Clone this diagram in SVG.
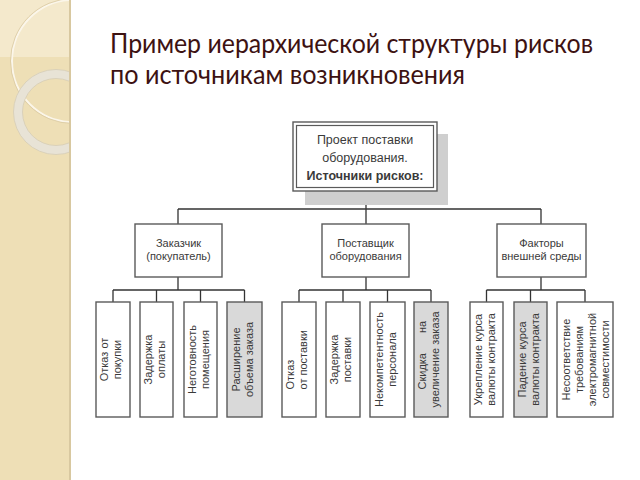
<svg xmlns="http://www.w3.org/2000/svg" width="640" height="480" viewBox="0 0 640 480">
<defs>
<style>
.box{fill:#fff;stroke:#5a5a5a;stroke-width:1.4}
.gbox{fill:#d9d9d9;stroke:#5a5a5a;stroke-width:1.4}
.con{fill:none;stroke:#333;stroke-width:1.3}
.t{font-family:"Liberation Sans",Arial,sans-serif;fill:#3a3a3a;text-anchor:middle}
.top{font-size:12.5px}
.mid{font-size:11px}
.lt{font-size:11px}
.title{font-family:Lato,"Open Sans",sans-serif;font-size:26px;fill:#3d1212}
</style>
<clipPath id="strip"><rect x="0" y="0" width="69" height="480"/></clipPath>
</defs>
<rect width="640" height="480" fill="#fff"/>
<g id="strip-deco">
<rect x="0" y="0" width="69" height="480" fill="#eedfb6"/>
<rect x="0" y="0" width="69" height="57" fill="#f4e9cc"/>
<rect x="69" y="0" width="2" height="480" fill="#d8c8a0"/>
<g clip-path="url(#strip)">
<circle cx="73" cy="61" r="61" fill="none" stroke="#fbf6ea" stroke-width="2"/>
<circle cx="73" cy="61" r="62.5" fill="none" stroke="#d9c9a2" stroke-width="0.8"/>
<circle cx="56" cy="112" r="38" fill="none" stroke="#e8e3d6" stroke-width="9"/>
<circle cx="56" cy="112" r="42.5" fill="none" stroke="#d6cdb6" stroke-width="0.8"/>
<circle cx="56" cy="112" r="33.5" fill="none" stroke="#d6cdb6" stroke-width="0.8"/>
</g>
</g>
<g id="title">
<text class="title" x="110" y="53" textLength="483" lengthAdjust="spacingAndGlyphs">Пример иерархической структуры рисков</text>
<text class="title" x="110" y="84" textLength="355" lengthAdjust="spacingAndGlyphs">по источникам возникновения</text>
</g>
<g id="connectors">
<path class="con" d="M366 191V209M178 209H541M178 209V224M366 209V224M541 209V224"/>
<path class="con" d="M178 277V290M113 290H244.5M113 290V302M156.5 290V302M200.5 290V302M244.5 290V302"/>
<path class="con" d="M366 277V290M299 290H431M299 290V302M343 290V302M387.5 290V302M431 290V302"/>
<path class="con" d="M541 277V290M486.5 290H585M486.5 290V302M530.5 290V302M585 290V302"/>
</g>
<g id="root">
<rect x="305" y="134" width="143" height="71" fill="#cfcfcf"/>
<rect class="box" x="293" y="122" width="144" height="69"/>
<rect x="296.5" y="125.5" width="137" height="62" fill="none" stroke="#5a5a5a" stroke-width="1.2"/>
<text class="t top" x="365" y="144">Проект поставки</text>
<text class="t top" x="365" y="162">оборудования.</text>
<text class="t top" x="365" y="180" font-weight="bold" fill="#1a1a1a">Источники рисков:</text>
</g>
<g id="customer">
<rect class="box" x="135" y="224" width="87" height="53"/>
<text class="t mid" x="178.5" y="247">Заказчик</text>
<text class="t mid" x="178.5" y="260">(покупатель)</text>
</g>
<g id="supplier">
<rect class="box" x="322" y="224" width="87" height="53"/>
<text class="t mid" x="365.5" y="247">Поставщик</text>
<text class="t mid" x="365.5" y="260">оборудования</text>
</g>
<g id="external">
<rect class="box" x="497" y="224" width="89" height="53"/>
<text class="t mid" x="541.5" y="247">Факторы</text>
<text class="t mid" x="541.5" y="260">внешней среды</text>
</g>
<g id="c1">
<rect class="box" x="96" y="302" width="34" height="115"/>
<g transform="translate(113 359.5) rotate(-90)"><text class="t lt" y="-5">Отказ от</text><text class="t lt" y="8">покупки</text></g>
</g>
<g id="c2">
<rect class="box" x="140" y="302" width="33" height="115"/>
<g transform="translate(156.5 359.5) rotate(-90)"><text class="t lt" y="-5">Задержка</text><text class="t lt" y="8">оплаты</text></g>
</g>
<g id="c3">
<rect class="box" x="184" y="302" width="33" height="115"/>
<g transform="translate(200.5 359.5) rotate(-90)"><text class="t lt" y="-5">Неготовность</text><text class="t lt" y="8">помещения</text></g>
</g>
<g id="c4">
<rect class="gbox" x="227" y="302" width="35" height="115"/>
<g transform="translate(244.5 359.5) rotate(-90)"><text class="t lt" y="-5">Расширение</text><text class="t lt" y="8">объема заказа</text></g>
</g>
<g id="s1">
<rect class="box" x="282" y="302" width="34" height="115"/>
<g transform="translate(299 359.5) rotate(-90)"><text class="t lt" x="-30" y="-5" style="text-anchor:start">Отказ</text><text class="t lt" x="-30" y="8" style="text-anchor:start">от поставки</text></g>
</g>
<g id="s2">
<rect class="box" x="326" y="302" width="34" height="115"/>
<g transform="translate(343 359.5) rotate(-90)"><text class="t lt" y="-5">Задержка</text><text class="t lt" y="8">поставки</text></g>
</g>
<g id="s3">
<rect class="box" x="370" y="302" width="35" height="115"/>
<g transform="translate(387.5 359.5) rotate(-90)"><text class="t lt" y="-5">Некомпетентность</text><text class="t lt" y="8">персонала</text></g>
</g>
<g id="s4">
<rect class="gbox" x="414" y="302" width="34" height="115"/>
<g transform="translate(431 359.5) rotate(-90)"><text class="t lt" x="-30" y="-5" style="text-anchor:start" word-spacing="17">Скидка на</text><text class="t lt" y="8">увеличение заказа</text></g>
</g>
<g id="e1">
<rect class="box" x="470" y="302" width="33" height="115"/>
<g transform="translate(486.5 359.5) rotate(-90)"><text class="t lt" y="-5">Укрепление курса</text><text class="t lt" y="8">валюты контракта</text></g>
</g>
<g id="e2">
<rect class="gbox" x="514" y="302" width="33" height="115"/>
<g transform="translate(530.5 359.5) rotate(-90)"><text class="t lt" y="-5">Падение курса</text><text class="t lt" y="8">валюты контракта</text></g>
</g>
<g id="e3">
<rect class="box" x="557" y="302" width="56" height="115"/>
<g transform="translate(585 359.5) rotate(-90)"><text class="t lt" y="-15.5">Несоответствие</text><text class="t lt" y="-2.5">требованиям</text><text class="t lt" y="10.5">электромагнитной</text><text class="t lt" y="23.5">совместимости</text></g>
</g>
</svg>
